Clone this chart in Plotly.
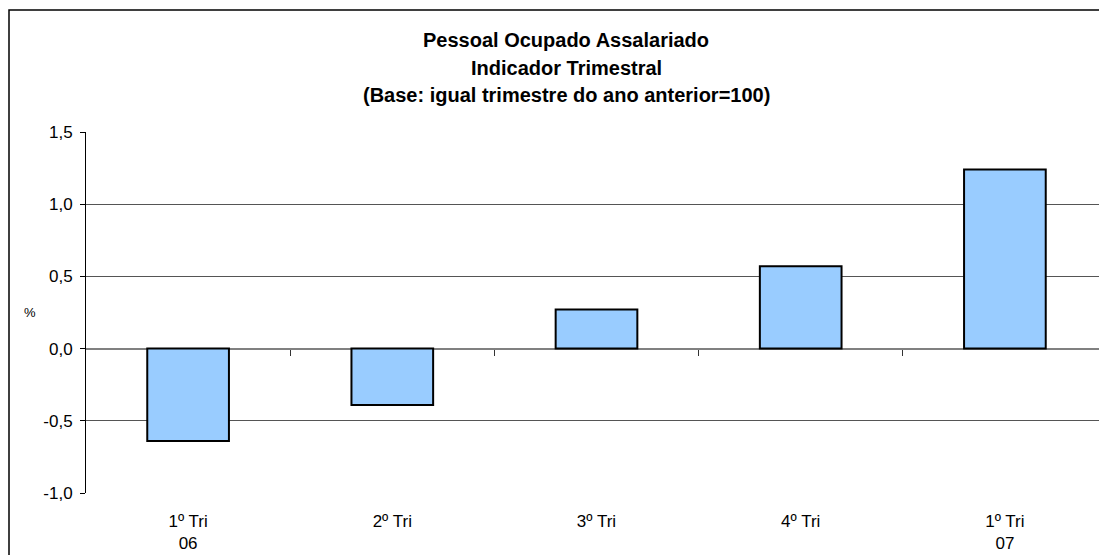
import plotly.graph_objects as go

# dados
trimestres = ["1º Tri<br>06", "2º Tri", "3º Tri", "4º Tri", "1º Tri<br>07"]
variacao = [-0.64, -0.39, 0.27, 0.57, 1.24]
y_ticks = [-1.0, -0.5, 0.0, 0.5, 1.0, 1.5]
titulo = ["Pessoal Ocupado Assalariado", "Indicador Trimestral",
          "(Base: igual trimestre do ano anterior=100)"]

font_family = "Liberation Sans, Arial, sans-serif"
pos = list(range(len(trimestres)))

# the page body adds an 8px offset, so the figure is a bit smaller than the window
W, H = 1099, 547
L, T, B = 78, 124, 62
plot_w, plot_h = W - L, H - T - B


def px_x(x):
    return (x - L) / plot_w


def px_y(y):
    return (H - B - y) / plot_h


fig = go.Figure()
fig.add_trace(go.Bar(
    x=pos,
    y=variacao,
    marker={"color": "#99CCFF", "line": {"color": "black", "width": 2}},
    width=0.4,
    hoverinfo="y",
))
# eixo x auxiliar so para os tracinhos sobre a linha do zero
fig.add_trace(go.Scatter(x=[0], y=[0], xaxis="x2", mode="markers",
                         marker={"opacity": 0}, hoverinfo="skip"))

annotations = []
# titulo em tres linhas, cada uma como anotacao para acertar o espacamento
for i, linha in enumerate(titulo):
    annotations.append({
        "text": "<b>" + linha + "</b>", "xref": "paper", "yref": "paper",
        "x": px_x(558), "y": px_y(32 + 27.5 * i),
        "xanchor": "center", "yanchor": "middle",
        "showarrow": False, "font": {"size": 20},
    })
annotations.append({
    "text": "%", "xref": "paper", "yref": "paper",
    "x": px_x(22), "y": px_y(304),
    "xanchor": "center", "yanchor": "middle",
    "showarrow": False, "font": {"size": 13},
})

fig.update_layout(
    width=W,
    height=H,
    margin=dict(l=L, r=0, t=T, b=B, pad=0),
    paper_bgcolor="white",
    plot_bgcolor="white",
    showlegend=False,
    separators=",.",
    font={"family": font_family, "size": 17, "color": "black"},
    xaxis={
        "range": [-0.5, len(trimestres) - 0.5],
        "tickvals": pos,
        "ticktext": trimestres,
        "ticks": "",
        "ticklabelstandoff": 16,
        "showgrid": False,
        "zeroline": False,
        "showline": False,
        "fixedrange": True,
    },
    xaxis2={
        "overlaying": "x",
        "anchor": "free",
        "position": 0.4,
        "range": [-0.5, len(trimestres) - 0.5],
        "tickvals": [p + 0.5 for p in pos[:-1]],
        "ticks": "outside",
        "ticklen": 6,
        "tickcolor": "#333",
        "showticklabels": False,
        "showgrid": False,
        "zeroline": False,
        "showline": True,
        "linecolor": "#808080",
        "linewidth": 2,
        "layer": "below traces",
    },
    yaxis={
        "range": [-1.0, 1.5],
        "tickvals": y_ticks,
        "ticktext": [f"{v:.1f}".replace(".", ",") for v in y_ticks],
        "ticks": "outside",
        "ticklen": 5,
        "tickcolor": "black",
        "ticklabelstandoff": 4,
        "showgrid": True,
        "gridcolor": "#555",
        "gridwidth": 1,
        "zeroline": False,
        "showline": True,
        "linecolor": "black",
        "linewidth": 1,
        "fixedrange": True,
    },
    annotations=annotations,
    shapes=[{
        "type": "rect", "xref": "paper", "yref": "paper",
        "x0": px_x(1), "x1": 1.1,
        "y0": -0.4, "y1": px_y(2),
        "line": {"color": "black", "width": 1.5},
        "layer": "below",
    }],
)

fig.write_html("out.html")
